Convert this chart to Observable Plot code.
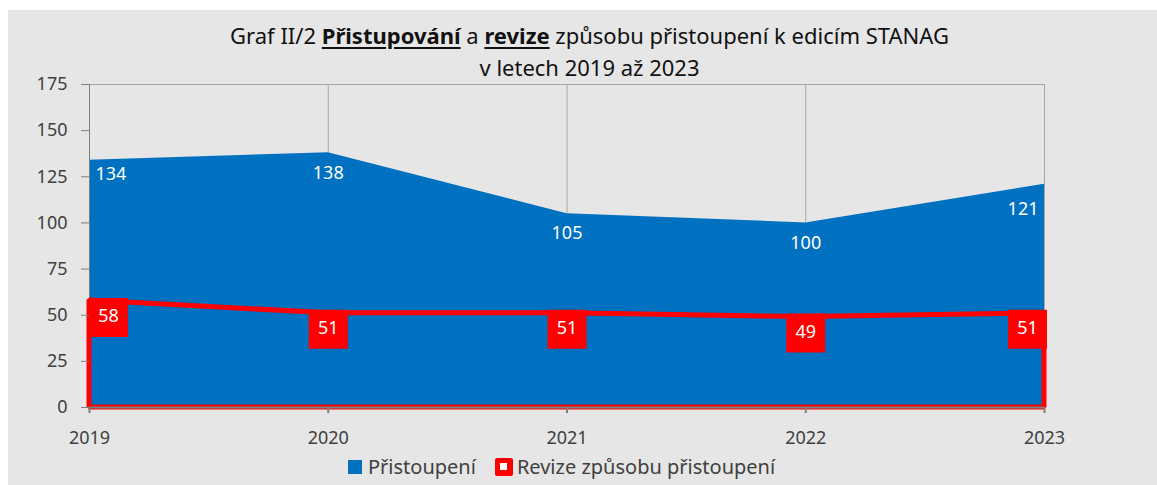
<!DOCTYPE html>
<html>
<head>
<meta charset="utf-8">
<script src="https://cdn.jsdelivr.net/npm/d3@7"></script>
<script src="https://cdn.jsdelivr.net/npm/@observablehq/plot@0.6"></script>
<style>
  body { margin: 0; background: #fff; font-family: "Noto Sans", sans-serif; }
  #wrap { position: absolute; left: 8px; top: 10px; width: 1149px; height: 475px; background: #e6e6e6; }
  #title { position: absolute; left: 0; top: 9px; width: 1163px; text-align: center; font-size: 22px; line-height: 32px; color: #111; }
  #title b { text-decoration: underline; text-decoration-thickness: 2px; text-underline-offset: 3px; }
  #chart { position: absolute; left: 0; top: 70px; }
  #legend { position: absolute; top: 443px; left: 340px; font-size: 20px; color: #404040; display: flex; align-items: center; white-space: nowrap; }
  .sw1 { display: inline-block; width: 14px; height: 14px; background: #0070c0; margin-right: 6px; }
  .sw2 { display: inline-block; width: 18px; height: 18px; background: #ff0000; border-radius: 2px; margin-left: 19px; margin-right: 4px; position: relative; }
  .sw2::after { content: ""; position: absolute; left: 5.5px; top: 5.5px; width: 7px; height: 7px; background: #fff; }
</style>
</head>
<body>
<div id="wrap">
  <div id="title">Graf II/2 <b>Přistupování</b> a <b>revize</b> způsobu přistoupení k edicím STANAG<br>v letech 2019 až 2023</div>
  <div id="chart"></div>
  <div id="legend"><span class="sw1"></span>Přistoupení<span class="sw2"></span>Revize způsobu přistoupení</div>
</div>
<script>
const years = [2019, 2020, 2021, 2022, 2023];
const pristoupeni = [134, 138, 105, 100, 121];
const revize = [58, 51, 51, 49, 51];
const yTicks = [0, 25, 50, 75, 100, 125, 150, 175];

const rows = years.map((y, i) => ({year: y, p: pristoupeni[i], r: revize[i]}));
const first = rows.slice(0, 1), mid = rows.slice(1, -1), last = rows.slice(-1);

const BLUE = "#0070c0", RED = "#ff0000", GRID = "#a6a6a6", AXIS = "#7f7f7f";
const FS = 18;

const blueText = (data, dx, dy, anchor) => Plot.text(data, {
  x: "year", y: "p", text: d => String(d.p), fill: "white", fontSize: FS,
  dx, dy, textAnchor: anchor
});
const redBox = (data, dx, dy) => Plot.dot(data, {
  x: "year", y: "r", symbol: "square", r: 22, fill: RED, stroke: "none", dx, dy
});
const redText = (data, dx, dy) => Plot.text(data, {
  x: "year", y: "r", text: d => String(d.r), fill: "white", fontSize: FS, dx, dy
});

const chart = Plot.plot({
  width: 1149,
  height: 370,
  marginTop: 4,
  marginBottom: 43,
  marginLeft: 81,
  marginRight: 113,
  style: {fontFamily: "Noto Sans, sans-serif", fontSize: FS + "px", color: "#404040", background: "transparent", overflow: "visible"},
  x: {type: "linear", domain: [2019, 2023]},
  y: {domain: [0, 175]},
  marks: [
    Plot.ruleX(years.slice(1), {y1: 0, y2: 175, stroke: GRID, strokeWidth: 1}),
    Plot.ruleY([175], {stroke: GRID, strokeWidth: 1}),
    Plot.areaY(rows, {x: "year", y: "p", fill: BLUE, fillOpacity: 1}),
    Plot.ruleX([2019], {y1: 0, y2: 175, stroke: AXIS, strokeWidth: 1}),
    Plot.areaY(rows, {x: "year", y: "r", fill: "none", stroke: RED, strokeWidth: 5, strokeLinejoin: "miter"}),
    Plot.ruleY([0], {stroke: AXIS, strokeWidth: 2}),
    Plot.axisY({ticks: yTicks, tickSize: 8, tickPadding: 14, stroke: AXIS, fill: "#404040", fontSize: FS, label: null}),
    Plot.axisX({ticks: years, tickFormat: "d", tickSize: 6, tickPadding: 18, stroke: AXIS, strokeWidth: 2, fill: "#404040", fontSize: FS, label: null}),
    blueText(first, 6, 14, "start"),
    blueText(mid, 0, 20, "middle"),
    blueText(last, -6, 25, "end"),
    redBox(first, 19, 17),
    redBox(mid, 0, 16),
    redBox(last, -17, 16),
    redText(first, 19, 16),
    redText(mid, 0, 15),
    redText(last, -17, 15)
  ]
});
document.getElementById("chart").appendChild(chart);
</script>
</body>
</html>
